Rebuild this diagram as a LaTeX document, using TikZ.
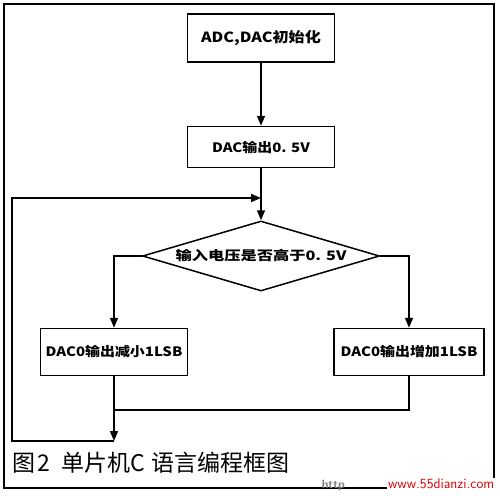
\documentclass[tikz,border=0pt]{standalone}
\usepackage{fontspec}
\newfontfamily\cjk{Noto Sans CJK SC}
\newfontfamily\cjkw[FakeStretch=1.15]{Noto Sans CJK SC}
\newfontfamily\cjkd[FakeStretch=1.25]{Noto Sans CJK SC}
\usetikzlibrary{arrows.meta,shapes.geometric}

\begin{document}
\begin{tikzpicture}[x=1pt,y=-1pt,line width=1.5pt,
  box/.style={draw,inner sep=0,font=\cjkw\bfseries\fontsize{13}{15}\selectfont},
  arr/.style={-{Triangle[length=10pt,width=8pt]}}]
\useasboundingbox (0,0) rectangle (500,495);
\draw (4,4) rectangle (494,488);
\node[box,minimum width=147,minimum height=48] (init) at (261,38) {\fontsize{14}{16}\selectfont ADC,DAC初始化};
\node[box,minimum width=147,minimum height=41] (dac) at (261,147) {DAC输出0. 5V};
\node[box,shape=diamond,aspect=3.4,minimum width=237,minimum height=70,font=\cjkd\bfseries\fontsize{13}{15}\selectfont] (cmp) at (261,256) {输入电压是否高于0. 5V};
\node[box,minimum width=147,minimum height=47] (dec) at (114,352) {DAC0输出减小1LSB};
\node[box,minimum width=150,minimum height=47] (inc) at (409,352) {DAC0输出增加1LSB};
\coordinate (join) at (114,410);\coordinate (loop) at (114,441);\coordinate (corner) at (12,441);\coordinate (back) at (261,198);
\draw[arr] (init)--(dac);\draw[arr] (dac)--(cmp);
\draw[arr] (cmp.west)-|(dec);\draw[arr] (cmp.east)-|(inc);
\draw (inc.south)|-(join);\draw[arr] (dec)--(loop);
\draw[arr] (loop)--(corner)|-(back);
\node[anchor=west,inner sep=0,font=\cjk\fontsize{23}{25}\selectfont] (cap) at (12,463) {图\hspace{2pt}2\hspace{11pt}单片机C\hspace{6pt}语言编程框图};
\node[anchor=west,inner sep=0,text=gray,font=\sffamily\bfseries\fontsize{12}{14}\selectfont] (http) at (321,485) {http};
\node[anchor=east,fill=white,inner sep=1,text=red!85!black,font=\sffamily\fontsize{14}{16}\selectfont] (url) at (496,484) {www.55dianzi.com};
\end{tikzpicture}
\end{document}
